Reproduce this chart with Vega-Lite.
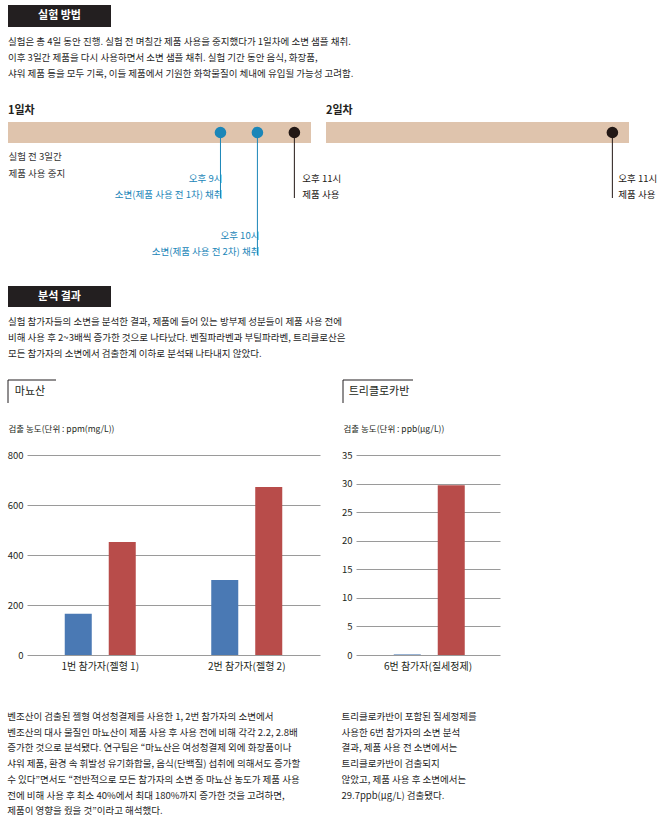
{
  "$schema": "https://vega.github.io/schema/vega-lite/v6.json",
  "background": "white",
  "padding": {"left": 7, "top": 5, "right": 0, "bottom": 0},
  "bounds": "flush",
  "spacing": 0,
  "resolve": {"scale": {"color": "independent"}},
  "config": {
    "font": "Noto Sans CJK KR",
    "view": {"stroke": null},
    "title": {"color": "#231f20"},
    "axis": {"labelColor": "#231f20", "titleColor": "#231f20"}
  },
  "datasets": {
    "events": [
      {"day": "1일차", "hour": 21, "type": "소변 채취", "tier": 1, "time": "오후 9시", "action": "소변(제품 사용 전 1차) 채취"},
      {"day": "1일차", "hour": 22, "type": "소변 채취", "tier": 2, "time": "오후 10시", "action": "소변(제품 사용 전 2차) 채취"},
      {"day": "1일차", "hour": 23, "type": "제품 사용", "tier": 1, "time": "오후 11시", "action": "제품 사용"},
      {"day": "2일차", "hour": 23, "type": "제품 사용", "tier": 1, "time": "오후 11시", "action": "제품 사용"}
    ],
    "bars": [
      {"chart": "마뇨산", "participant": "1번 참가자(젤형 1)", "phase": "사용 전", "value": 165},
      {"chart": "마뇨산", "participant": "1번 참가자(젤형 1)", "phase": "사용 후", "value": 452},
      {"chart": "마뇨산", "participant": "2번 참가자(젤형 2)", "phase": "사용 전", "value": 300},
      {"chart": "마뇨산", "participant": "2번 참가자(젤형 2)", "phase": "사용 후", "value": 672},
      {"chart": "트리클로카반", "participant": "6번 참가자(질세정제)", "phase": "사용 전", "value": 0.1},
      {"chart": "트리클로카반", "participant": "6번 참가자(질세정제)", "phase": "사용 후", "value": 29.7}
    ]
  },
  "vconcat": [
    {
      "width": 103, "height": 22,
      "view": {"fill": "#231f20", "stroke": null},
      "data": {"values": [{"label": "실험 방법"}]},
      "mark": {"type": "text", "color": "white", "fontSize": 11, "fontWeight": "bold"},
      "encoding": {"text": {"field": "label"}},
      "title": {
        "text": [
          "실험은 총 4일 동안 진행. 실험 전 며칠간 제품 사용을 중지했다가 1일차에 소변 샘플 채취.",
          "이후 3일간 제품을 다시 사용하면서 소변 샘플 채취. 실험 기간 동안 음식, 화장품,",
          "샤워 제품 등을 모두 기록, 이들 제품에서 기원한 화학물질이 체내에 유입될 가능성 고려함."
        ],
        "orient": "bottom", "anchor": "start", "frame": "group", "align": "left",
        "fontSize": 9.5, "fontWeight": "normal", "lineHeight": 16, "offset": 10, "color": "#1f1f1f"
      }
    },
    {"width": 10, "height": 95, "data": {"values": [{}]}, "mark": {"type": "text", "text": ""}},
    {
      "hconcat": [
        {
          "width": 303, "height": 21,
          "view": {"fill": "#dfc4ad", "stroke": null},
          "data": {"name": "events"},
          "transform": [{"filter": "datum.day === '1일차'"}],
          "title": {"text": "1일차", "anchor": "start", "frame": "group", "fontSize": 11, "fontWeight": "bold", "offset": 6},
          "encoding": {
            "x": {"field": "hour", "type": "quantitative", "scale": {"domain": [15.25, 23.45], "nice": false, "zero": false},
              "axis": {"title": ["실험 전 3일간", "제품 사용 중지"], "labels": false, "ticks": false, "domain": false, "grid": false,
                "titleAnchor": "start", "titleAlign": "left", "titleBaseline": "top", "titleFontWeight": "normal", "titleFontSize": 9.5,
                "titleColor": "#333333", "titlePadding": 8, "titleLineHeight": 17}},
            "color": {"field": "type", "type": "nominal", "scale": {"domain": ["소변 채취", "제품 사용"], "range": ["#1b86b8", "#231815"]}, "legend": null}
          },
          "layer": [
            {"mark": {"type": "rule", "strokeWidth": 1},
              "encoding": {"y": {"field": "tier", "type": "quantitative", "scale": {"domain": [0, 1, 2], "range": [10.5, 76, 133], "nice": false, "zero": false}, "axis": null}, "y2": {"datum": 0}}},
            {"mark": {"type": "circle", "size": 135, "opacity": 1}},
            {"transform": [{"filter": "datum.type === '소변 채취'"}],
              "mark": {"type": "text", "align": "right", "dx": 2, "dy": -19, "fontSize": 9.5},
              "encoding": {"y": {"field": "tier", "type": "quantitative"}, "text": {"field": "time"}}},
            {"transform": [{"filter": "datum.type === '소변 채취'"}],
              "mark": {"type": "text", "align": "right", "dx": 2, "dy": -3, "fontSize": 9.5},
              "encoding": {"y": {"field": "tier", "type": "quantitative"}, "text": {"field": "action"}}},
            {"transform": [{"filter": "datum.type === '제품 사용'"}],
              "mark": {"type": "text", "align": "left", "dx": 8, "dy": -19, "fontSize": 9.5},
              "encoding": {"y": {"field": "tier", "type": "quantitative"}, "text": {"field": "time"}}},
            {"transform": [{"filter": "datum.type === '제품 사용'"}],
              "mark": {"type": "text", "align": "left", "dx": 8, "dy": -3, "fontSize": 9.5},
              "encoding": {"y": {"field": "tier", "type": "quantitative"}, "text": {"field": "action"}}}
          ]
        },
        {
          "width": 303, "height": 21,
          "view": {"fill": "#dfc4ad", "stroke": null},
          "data": {"name": "events"},
          "transform": [{"filter": "datum.day === '2일차'"}],
          "title": {"text": "2일차", "anchor": "start", "frame": "group", "fontSize": 11, "fontWeight": "bold", "offset": 6},
          "encoding": {
            "x": {"field": "hour", "type": "quantitative", "scale": {"domain": [15.25, 23.45], "nice": false, "zero": false}, "axis": null},
            "color": {"field": "type", "type": "nominal", "scale": {"domain": ["소변 채취", "제품 사용"], "range": ["#1b86b8", "#231815"]}, "legend": null}
          },
          "layer": [
            {"mark": {"type": "rule", "strokeWidth": 1},
              "encoding": {"y": {"field": "tier", "type": "quantitative", "scale": {"domain": [0, 1, 2], "range": [10.5, 76, 133], "nice": false, "zero": false}, "axis": null}, "y2": {"datum": 0}}},
            {"mark": {"type": "circle", "size": 135, "opacity": 1}},
            {"mark": {"type": "text", "align": "left", "dx": 6, "dy": -19, "fontSize": 9.5},
              "encoding": {"y": {"field": "tier", "type": "quantitative"}, "text": {"field": "time"}}},
            {"mark": {"type": "text", "align": "left", "dx": 6, "dy": -3, "fontSize": 9.5},
              "encoding": {"y": {"field": "tier", "type": "quantitative"}, "text": {"field": "action"}}}
          ]
        }
      ],
      "spacing": 15,
      "bounds": "flush"
    },
    {"width": 10, "height": 164, "data": {"values": [{}]}, "mark": {"type": "text", "text": ""}},
    {
      "width": 103, "height": 21,
      "view": {"fill": "#231f20", "stroke": null},
      "data": {"values": [{"label": "분석 결과"}]},
      "mark": {"type": "text", "color": "white", "fontSize": 11, "fontWeight": "bold"},
      "encoding": {"text": {"field": "label"}},
      "title": {
        "text": [
          "실험 참가자들의 소변을 분석한 결과, 제품에 들어 있는 방부제 성분들이 제품 사용 전에",
          "비해 사용 후 2~3배씩 증가한 것으로 나타났다. 벤질파라벤과 부틸파라벤, 트리클로산은",
          "모든 참가자의 소변에서 검출한계 이하로 분석돼 나타내지 않았다."
        ],
        "orient": "bottom", "anchor": "start", "frame": "group", "align": "left",
        "fontSize": 9.5, "fontWeight": "normal", "lineHeight": 16, "offset": 10, "color": "#1f1f1f"
      }
    },
    {"width": 10, "height": 73, "data": {"values": [{}]}, "mark": {"type": "text", "text": ""}},
    {
      "hconcat": [
        {
          "width": 48, "height": 23,
          "data": {"values": [{"label": "마뇨산"}]},
          "layer": [
            {"mark": {"type": "rule", "color": "#231f20", "strokeWidth": 1},
              "encoding": {"x": {"datum": 0, "type": "quantitative", "scale": {"domain": [0, 1]}, "axis": null}}},
            {"mark": {"type": "rule", "color": "#231f20", "strokeWidth": 1},
              "encoding": {"y": {"datum": 1, "type": "quantitative", "scale": {"domain": [0, 1]}, "axis": null}}},
            {"mark": {"type": "text", "fontSize": 11, "color": "#231f20", "dx": -2}, "encoding": {"text": {"field": "label"}}}
          ]
        },
        {"width": 287, "height": 23, "data": {"values": [{}]}, "mark": {"type": "text", "text": ""}},
        {
          "width": 70, "height": 23,
          "data": {"values": [{"label": "트리클로카반"}]},
          "layer": [
            {"mark": {"type": "rule", "color": "#231f20", "strokeWidth": 1},
              "encoding": {"x": {"datum": 0, "type": "quantitative", "scale": {"domain": [0, 1]}, "axis": null}}},
            {"mark": {"type": "rule", "color": "#231f20", "strokeWidth": 1},
              "encoding": {"y": {"datum": 1, "type": "quantitative", "scale": {"domain": [0, 1]}, "axis": null}}},
            {"mark": {"type": "text", "fontSize": 11, "color": "#231f20", "dx": 1}, "encoding": {"text": {"field": "label"}}}
          ]
        }
      ],
      "spacing": 0,
      "bounds": "flush"
    },
    {"width": 10, "height": 75, "data": {"values": [{}]}, "mark": {"type": "text", "text": ""}},
    {
      "hconcat": [
        {"width": 19, "height": 200, "data": {"values": [{}]}, "mark": {"type": "text", "text": ""}},
        {
          "width": 293, "height": 200,
          "data": {"name": "bars"},
          "transform": [{"filter": "datum.chart === '마뇨산'"}],
          "mark": {"type": "bar"},
          "encoding": {
            "x": {"field": "participant", "type": "nominal", "scale": {"paddingInner": 0, "paddingOuter": 0},
              "axis": {"title": null, "labelAngle": 0, "domain": false, "ticks": false, "labelPadding": 6, "labelFontSize": 10}},
            "xOffset": {"field": "phase", "type": "nominal", "scale": {"paddingInner": 0.386, "paddingOuter": 0.858}},
            "y": {"field": "value", "type": "quantitative", "scale": {"domain": [0, 800], "nice": false},
              "axis": {"values": [0, 200, 400, 600, 800], "title": "검출 농도(단위 : ppm(mg/L))", "titleAngle": 0, "titleAlign": "left",
                "titleBaseline": "middle", "titleX": -19, "titleY": -27, "titleFontSize": 8.5, "titleFontWeight": "normal",
                "grid": true, "gridColor": "#9a9a9a", "domain": false, "ticks": false, "labelPadding": 4, "labelFontSize": 9.5}},
            "color": {"field": "phase", "type": "nominal", "scale": {"domain": ["사용 전", "사용 후"], "range": ["#4a79b4", "#b84c4a"]}, "legend": null}
          },
          "title": {
            "text": [
              "벤조산이 검출된 젤형 여성청결제를 사용한 1, 2번 참가자의 소변에서",
              "벤조산의 대사 물질인 마뇨산이 제품 사용 후 사용 전에 비해 각각 2.2, 2.8배",
              "증가한 것으로 분석됐다. 연구팀은 “마뇨산은 여성청결제 외에 화장품이나",
              "샤워 제품, 환경 속 휘발성 유기화합물, 음식(단백질) 섭취에 의해서도 증가할",
              "수 있다”면서도 “전반적으로 모든 참가자의 소변 중 마뇨산 농도가 제품 사용",
              "전에 비해 사용 후 최소 40%에서 최대 180%까지 증가한 것을 고려하면,",
              "제품이 영향을 줬을 것”이라고 해석했다."
            ],
            "orient": "bottom", "anchor": "start", "frame": "bounds", "align": "left",
            "fontSize": 9.5, "fontWeight": "normal", "lineHeight": 15.7, "offset": 41, "color": "#1f1f1f"
          }
        },
        {"width": 36, "height": 200, "data": {"values": [{}]}, "mark": {"type": "text", "text": ""}},
        {
          "width": 144, "height": 200,
          "data": {"name": "bars"},
          "transform": [{"filter": "datum.chart === '트리클로카반'"}],
          "mark": {"type": "bar"},
          "encoding": {
            "x": {"field": "participant", "type": "nominal", "scale": {"paddingInner": 0, "paddingOuter": 0},
              "axis": {"title": null, "labelAngle": 0, "domain": false, "ticks": false, "labelPadding": 6, "labelFontSize": 10}},
            "xOffset": {"field": "phase", "type": "nominal", "scale": {"paddingInner": 0.386, "paddingOuter": 0.829}},
            "y": {"field": "value", "type": "quantitative", "scale": {"domain": [0, 35], "nice": false},
              "axis": {"values": [0, 5, 10, 15, 20, 25, 30, 35], "title": "검출 농도(단위 : ppb(μg/L))", "titleAngle": 0, "titleAlign": "left",
                "titleBaseline": "middle", "titleX": -13, "titleY": -27, "titleFontSize": 8.5, "titleFontWeight": "normal",
                "grid": true, "gridColor": "#9a9a9a", "domain": false, "ticks": false, "labelPadding": 4, "labelFontSize": 9.5}},
            "color": {"field": "phase", "type": "nominal", "scale": {"domain": ["사용 전", "사용 후"], "range": ["#4a79b4", "#b84c4a"]}, "legend": null}
          },
          "title": {
            "text": [
              "트리클로카반이 포함된 질세정제를",
              "사용한 6번 참가자의 소변 분석",
              "결과, 제품 사용 전 소변에서는",
              "트리클로카반이 검출되지",
              "않았고, 제품 사용 후 소변에서는",
              "29.7ppb(μg/L) 검출됐다."
            ],
            "orient": "bottom", "anchor": "start", "frame": "bounds", "align": "left",
            "fontSize": 9.5, "fontWeight": "normal", "lineHeight": 15.7, "offset": 41, "color": "#1f1f1f"
          }
        }
      ],
      "spacing": 0,
      "bounds": "flush"
    }
  ]
}
